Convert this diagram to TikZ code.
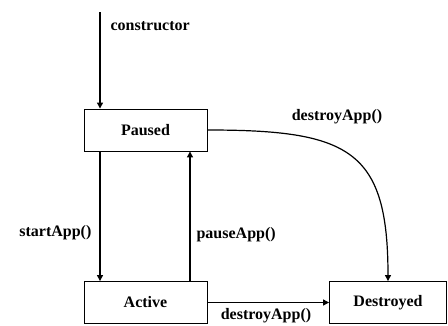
\documentclass[tikz,border=0pt]{standalone}
\usepackage{fontspec}
\setmainfont{Liberation Serif}
\usepackage{tikz}
\usetikzlibrary{positioning,arrows.meta}

\begin{document}
\begin{tikzpicture}[x=1pt,y=-1pt,->,>={Triangle[length=6pt,width=6pt]},line width=1.2pt]
  \tikzstyle{state}=[rectangle,draw,line width=0.9pt,minimum width=123pt,minimum height=42pt,font=\fontsize{16}{18}\selectfont\bfseries]
  \tikzstyle{lbl}=[inner sep=0pt,font=\fontsize{16}{18}\selectfont\bfseries]

  \clip (0,0) rectangle (448,325);

  % states
  \node[state] (paused) at (145.5,130) {Paused};
  \node[state] (active) at (145.5,302.5) {Active};
  \node[state,minimum width=117pt] (destroyed) at (388,302.5) {Destroyed};

  \coordinate (start) at (100,12);

  % transitions
  \draw (start) -- (paused.north -| start);
  \draw (paused.south -| start) -- (active.north -| start);
  \draw (active.north -| 190,0) -- (paused.south -| 190,0);
  \draw (paused.east) .. controls (350,130) and (388,150) .. (destroyed.north);
  \draw (active.east) -- (destroyed.west);

  % labels
  \node[lbl,anchor=west] (lconstr) at (110,26) {constructor};
  \node[lbl,anchor=east] (lstart) at (92,233) {startApp()};
  \node[lbl,anchor=west] (lpause) at (196,235) {pauseApp()};
  \node[lbl] (ldestroy) at (337,117) {destroyApp()};
  \node[lbl] (ldestroy2) at (266,316) {destroyApp()};
\end{tikzpicture}
\end{document}
